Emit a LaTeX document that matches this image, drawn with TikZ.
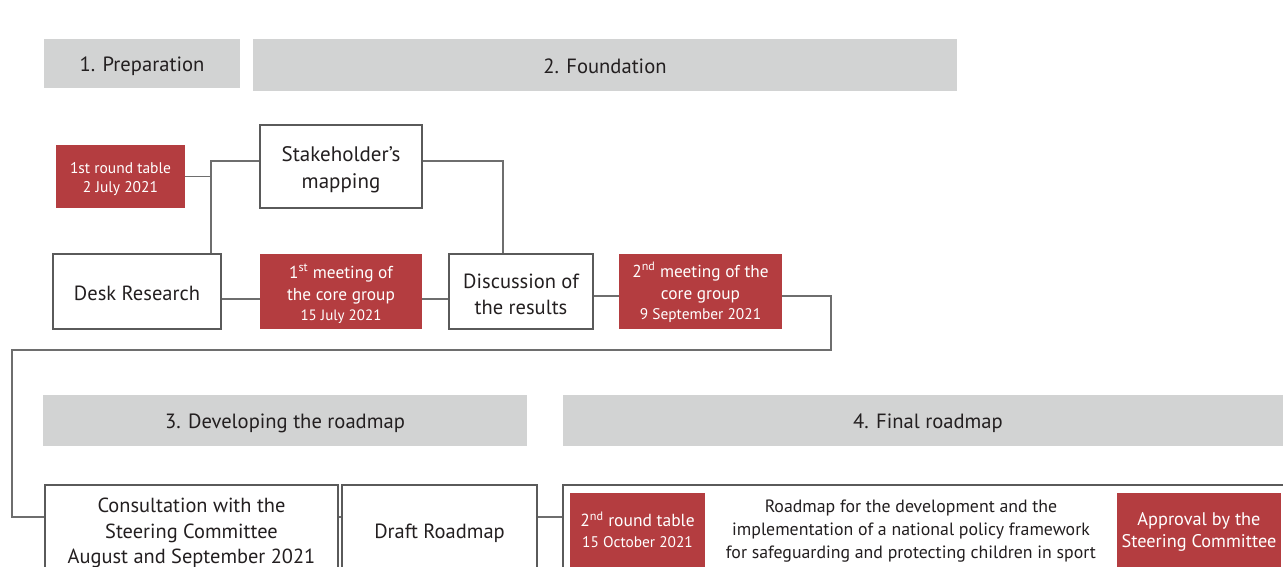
\documentclass[tikz,border=0pt]{standalone}
\usepackage{fontspec}
\setmainfont{PT Sans}
\begin{document}
\definecolor{hgray}{HTML}{D2D3D3}
\definecolor{redc}{HTML}{B43D40}
\definecolor{bordc}{HTML}{5A5A5A}
\definecolor{linec}{HTML}{6E6E6E}
\definecolor{txtc}{HTML}{231F20}
\newcommand{\fs}[2]{\fontsize{#1}{#2}\selectfont}
% invisible strut on the first line: pushes a centred text block down by #1
\newcommand{\dn}[1]{\rule{0pt}{\dimexpr 0.72em+#1*2\relax}}
\begin{tikzpicture}[x=1pt,y=-1pt,
  header/.style={fill=hgray, draw=none, inner sep=0, text=txtc, font=\fs{20.6}{24}},
  wbox/.style={draw=bordc, line width=1.3pt, fill=white, inner sep=0, text=txtc, align=center, font=\fs{20.5}{26}},
  rbox/.style={fill=redc, draw=none, inner sep=0, text=white, align=center},
  conn/.style={draw=linec, line width=1.5pt},
]
\useasboundingbox (0,0) rectangle (1283,567);
\clip (0,0) rectangle (1283,567);

% phase headers
\node[header, minimum width=196, minimum height=49] (prep) at (142,63.5) {\dn{2.5pt}1. Preparation};
\node[header, minimum width=704, minimum height=52] (found) at (605,65) {\dn{1.5pt}2. Foundation};
\node[header, minimum width=484, minimum height=51] (dev) at (285,420.5) {\dn{3pt}3. Developing the roadmap};
\node[header, minimum width=730, minimum height=51] (fin) at (928,420.5) {\dn{3pt}4. Final roadmap};

% foundation steps
\node[rbox, minimum width=129, minimum height=63, font=\fs{15.5}{19}] (rt1) at (120.5,176.5) {\dn{3pt}1st round table\\2 July 2021};
\node[wbox, minimum width=162, minimum height=83, font=\fs{21}{27}] (stake) at (341,166.5) {\dn{3pt}Stakeholder’s\\mapping};
\node[wbox, minimum width=168, minimum height=75] (desk) at (137,291.5) {\dn{2pt}Desk Research};
\node[rbox, minimum width=162, minimum height=75, font=\fs{17.3}{22}] (meet1) at (341,291.5)
  {\dn{3pt}1\textsuperscript{st} meeting of\\the core group\\[-2pt]{\fs{15}{18}15 July 2021}};
\node[wbox, minimum width=144, minimum height=75] (disc) at (521,291.5) {\dn{2.5pt}Discussion of\\the results};
\node[rbox, minimum width=163, minimum height=75, font=\fs{17.3}{22}] (meet2) at (700.5,291.5)
  {\dn{2pt}2\textsuperscript{nd} meeting of the\\core group\\[-2pt]{\fs{15.4}{18}9 September 2021}};

% roadmap steps
\node[wbox, minimum width=293, minimum height=94, font=\fs{20.4}{25.5}] (consult) at (191.5,532)
  {\dn{1pt}Consultation with the\\Steering Committee\\August and September 2021};
\node[wbox, minimum width=195, minimum height=94] (draft) at (439.5,532) {\dn{1pt}Draft Roadmap};
\node[wbox, minimum width=737, minimum height=94] (finbox) at (931.5,532) {};
\node[rbox, minimum width=135, minimum height=74, font=\fs{17.5}{21}] (rt2) at (637.5,530)
  {2\textsuperscript{nd} round table\\{\fs{15.4}{19}15 October 2021}};
\node[text=txtc, align=center, inner sep=0, font=\fs{17.8}{23}] (roadmap) at (911,531)
  {Roadmap for the development and the\\implementation of a national policy framework\\for safeguarding and protecting children in sport};
\node[rbox, minimum width=164, minimum height=78, font=\fs{18.3}{22}] (appr) at (1199,532)
  {Approval by the\\Steering Committee};

% rails of the connectors
\coordinate (r1) at (211,161);
\coordinate (r2) at (503,161);
\coordinate (r3) at (0,299);
\coordinate (r4) at (0,296);
\coordinate (c1) at (831,350);
\coordinate (c2) at (12,517);

% connectors
\draw[conn] (rt1.east) -- (rt1.east -| r1);
\draw[conn] (stake.west |- r1) -| (desk.north -| r1);
\draw[conn] (stake.east |- r2) -| (disc.north -| r2);
\draw[conn] (desk.east |- r3) -- (meet1.west |- r3);
\draw[conn] (meet1.east |- r3) -- (disc.west |- r3);
\draw[conn] (disc.east |- r4) -- (meet2.west |- r4);
\draw[conn] (meet2.east |- r4) -| (c1) -| (c2) -- (consult.west |- c2);
\draw[conn] (consult.east |- c2) -- (draft.west |- c2);
\draw[conn] (draft.east |- c2) -- (finbox.west |- c2);
\end{tikzpicture}
\end{document}
